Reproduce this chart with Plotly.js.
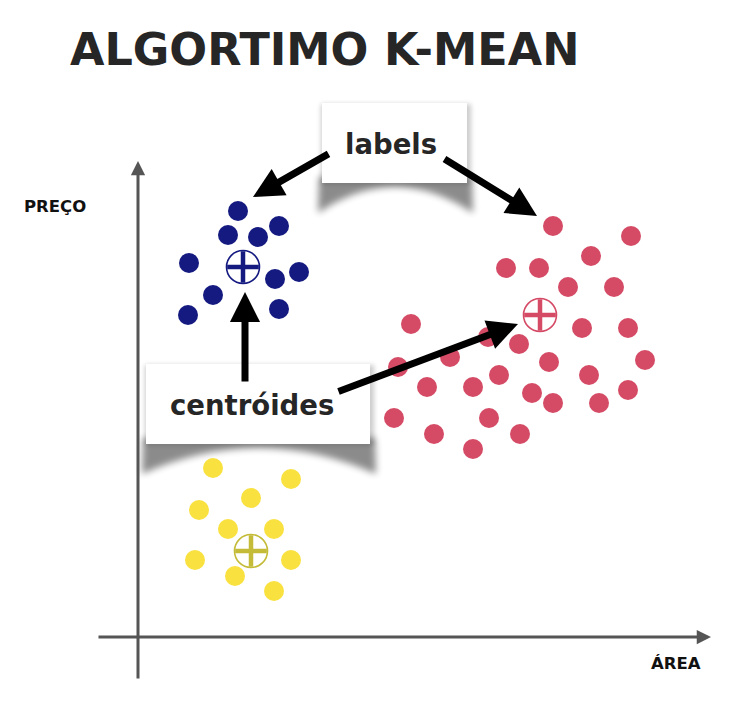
<!DOCTYPE html>
<html>
<head>
<meta charset="utf-8">
<script src="https://cdn.plot.ly/plotly-3.0.1.min.js"></script>
<style>html,body{margin:0;padding:0;background:#fff;}#chart{width:754px;height:713px;}</style>
</head>
<body>
<div id="chart"></div>
<script>
// ---- data (Área, Preço) ----
const blueX = [10.0, 9.0, 12.0, 14.1, 5.1, 13.7, 16.1, 7.5, 5.0, 14.1];
const blueY = [42.6, 40.2, 40.0, 41.1, 37.4, 35.8, 36.5, 34.2, 32.2, 32.8];
const redX = [41.5, 49.3, 45.3, 36.8, 40.1, 43.0, 47.6, 27.3, 44.4, 49.0, 35.0, 38.1, 31.2, 26.0, 41.1, 50.7, 36.1, 45.1, 28.9, 33.5, 39.4, 49.0, 41.5, 46.1, 25.6, 35.1, 29.6, 38.2, 33.5];
const redY = [41.1, 40.1, 38.1, 36.9, 36.9, 35.0, 35.0, 31.3, 30.9, 30.9, 30.0, 29.3, 28.0, 27.0, 27.5, 27.7, 26.2, 26.2, 25.0, 25.0, 24.4, 24.7, 23.4, 23.4, 21.9, 21.9, 20.3, 20.3, 18.8];
const yellowX = [7.5, 15.3, 11.3, 6.1, 9.0, 13.6, 5.7, 15.3, 9.7, 13.6];
const yellowY = [16.9, 15.8, 13.9, 12.7, 10.8, 10.8, 7.7, 7.7, 6.1, 4.6];
const centroidX = [10.5, 40.2, 11.3];
const centroidY = [37.0, 32.2, 8.6];

const titleText = "ALGORTIMO K-MEAN";
const xLabel = "ÁREA";
const yLabel = "PREÇO";
const boxLabels = "labels";
const boxCentroids = "centróides";

// ---- styles ----
const BLUE = "#141a80", RED = "#d54b66", YELLOW = "#f9e13f", OLIVE = "#c4bb38";
const centroidColors = [BLUE, RED, OLIVE];
const W = 754, H = 713;
const px = v => v / W;
const py = v => 1 - v / H;

function boxSvg(bw, bh) {
  const p = 14, tw = bw + 2 * p, th = bh + p + 40;
  const s = `<svg xmlns='http://www.w3.org/2000/svg' width='${tw}' height='${th}' viewBox='0 0 ${tw} ${th}'>` +
    `<defs><filter id='b' x='-20%' y='-50%' width='140%' height='200%'><feGaussianBlur stdDeviation='2.5'/></filter>` +
    `<filter id='c' x='-20%' y='-50%' width='140%' height='200%'><feGaussianBlur stdDeviation='3.5'/></filter></defs>` +
    `<rect x='${p - 1}' y='${p + 1}' width='${bw + 5}' height='${bh}' fill='#000' opacity='0.2' filter='url(#b)'/>` +
    `<path d='M${p - 3},${p + bh - 6} H${p + bw + 5} L${p + bw + 6},${p + bh + 30} Q${p + bw / 2},${p + bh - 22} ${p - 4},${p + bh + 30} Z' fill='#000' opacity='0.45' filter='url(#c)'/>` +
    `<rect x='${p}' y='${p}' width='${bw}' height='${bh}' fill='#fff'/></svg>`;
  return { src: "data:image/svg+xml;charset=utf-8," + encodeURIComponent(s), tw, th, p };
}
function boxImage(x0, y0, bw, bh) {
  const b = boxSvg(bw, bh);
  return { source: b.src, xref: "paper", yref: "paper", x: px(x0 - b.p), y: py(y0 - b.p),
    sizex: b.tw / W, sizey: b.th / H, xanchor: "left", yanchor: "top", sizing: "stretch", layer: "below" };
}

const dot = (x, y, c) => ({ x, y, type: "scatter", mode: "markers", hoverinfo: "skip", showlegend: false,
  marker: { size: 20, color: c, line: { width: 0 } } });

const traces = [
  dot(blueX, blueY, BLUE),
  dot(redX, redY, RED),
  dot(yellowX, yellowY, YELLOW),
  { x: centroidX, y: centroidY, type: "scatter", mode: "markers", showlegend: false, hoverinfo: "skip",
    marker: { symbol: "circle-open", size: 33, color: centroidColors, line: { width: 1.6 } } },
  { x: centroidX, y: centroidY, type: "scatter", mode: "markers", showlegend: false, hoverinfo: "skip",
    marker: { symbol: "cross-thin-open", size: 22.6, color: centroidColors, line: { width: 4.5 } } }
];

const arrow = (x, y, ax, ay) => ({ x, y, ax, ay, xref: "x", yref: "y", axref: "x", ayref: "y", text: "",
  showarrow: true, arrowhead: 2, arrowwidth: 7, arrowsize: 0.86, arrowcolor: "#000", standoff: 0 });
const axisArrow = (x, y, ax, ay) => ({ x, y, ax, ay, xref: "x", yref: "y", axref: "x", ayref: "y", text: "",
  showarrow: true, arrowhead: 2, arrowwidth: 3, arrowsize: 0.95, arrowcolor: "#555", standoff: 0 });

const annotations = [
  axisArrow(0, 47.6, 0, -4.3),
  axisArrow(57.3, 0, -4.1, 0),
  { text: "<b>" + yLabel + "</b>", xref: "paper", yref: "paper", x: px(22), y: py(207), xanchor: "left", yanchor: "middle",
    showarrow: false, font: { family: "DejaVu Sans", size: 16.5, color: "#111" } },
  { text: "<b>" + xLabel + "</b>", xref: "paper", yref: "paper", x: px(703), y: py(663), xanchor: "right", yanchor: "middle",
    showarrow: false, font: { family: "DejaVu Sans", size: 16.5, color: "#111" } },
  { text: "<b>" + boxLabels + "</b>", xref: "paper", yref: "paper", x: px(391), y: py(144), xanchor: "center", yanchor: "middle",
    showarrow: false, font: { family: "DejaVu Sans", size: 27.5, color: "#262626" } },
  { text: "<b>" + boxCentroids + "</b>", xref: "paper", yref: "paper", x: px(252), y: py(405), xanchor: "center", yanchor: "middle",
    showarrow: false, font: { family: "DejaVu Sans", size: 27.5, color: "#262626" } },
  arrow(11.5, 44.0, 19.2, 48.4),
  arrow(39.9, 42.1, 30.5, 47.9),
  arrow(10.7, 34.5, 10.7, 25.4),
  arrow(38.0, 31.3, 19.9, 24.5)
];

const layout = {
  width: W, height: H,
  margin: { l: 0, r: 0, t: 0, b: 0 },
  paper_bgcolor: "#fff", plot_bgcolor: "rgba(0,0,0,0)",
  title: { text: "<b>" + titleText + "</b>", x: px(70), xanchor: "left", xref: "paper", y: py(49), yref: "paper", yanchor: "middle",
    font: { family: "DejaVu Sans", size: 44.5, color: "#262626" } },
  xaxis: { range: [-13.8, 61.6], visible: false, fixedrange: true },
  yaxis: { range: [-7.6, 63.7], visible: false, fixedrange: true },
  images: [boxImage(322, 103, 145, 80), boxImage(146, 364, 224, 80)],
  annotations,
  showlegend: false
};

Plotly.newPlot("chart", traces, layout, { displayModeBar: false, staticPlot: true });
</script>
</body>
</html>
